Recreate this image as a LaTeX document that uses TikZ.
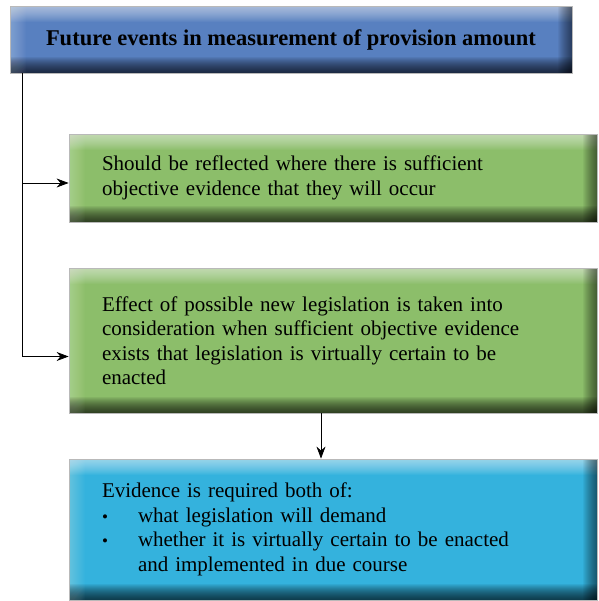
\documentclass[tikz,border=0pt]{standalone}
\usepackage{fontspec}
\setmainfont{Liberation Serif}
\usepackage{xcolor}
\usetikzlibrary{positioning, arrows.meta, calc}

\definecolor{titleblue}{RGB}{88,128,192}
\definecolor{boxgreen}{RGB}{140,190,106}
\definecolor{boxcyan}{RGB}{52,178,221}

\begin{document}
\begin{tikzpicture}[
        x=1pt, y=1pt,
        >={Stealth[length=12pt, width=9pt]},
        every node/.style={font=\fontsize{21}{24.5}\selectfont},
        bevel/.style={rectangle, draw=gray!55, line width=0.8pt, fill=#1,
            path picture={
                \foreach \i in {1,...,16} {
                    \fill[white, opacity=0.045] (path picture bounding box.north west) rectangle ([yshift=-\i*1pt]path picture bounding box.north east);
                    \fill[black, opacity=0.06] (path picture bounding box.south west) rectangle ([yshift=\i*1pt]path picture bounding box.south east);
                    \fill[white, opacity=0.02] (path picture bounding box.south west) rectangle ([xshift=\i*1pt]path picture bounding box.north west);
                }
                \foreach \i in {1,...,14}
                    \fill[black, opacity=0.045] (path picture bounding box.south east) rectangle ([xshift=-\i*1pt]path picture bounding box.north east);
            }},
        textbox/.style={bevel=#1, align=left, text width=462pt, inner xsep=33pt, minimum width=528pt}
    ]
        \useasboundingbox (0,0) rectangle (598,-601);

        % Nodes
        \node (title) [bevel=titleblue, minimum width=562pt, minimum height=67pt, font=\fontsize{22.5}{24}\selectfont\bfseries] at (291,-39.5) {Future events in measurement of provision amount};
        \node (should) [textbox=boxgreen, minimum height=88pt] at (333,-178) {Should be reflected where there is sufficient\\objective evidence that they will occur};
        \node (effect) [textbox=boxgreen, minimum height=145pt] at (333,-340.5) {Effect of possible new legislation is taken into\\consideration when sufficient objective evidence\\exists that legislation is virtually certain to be\\enacted};
        \node (evidence) [textbox=boxcyan, minimum height=141pt] at (333,-529.5) {Evidence is required both of:\\
            \makebox[36pt][l]{\fontsize{17}{17}\selectfont\textbullet}what legislation will demand\\
            \makebox[36pt][l]{\fontsize{17}{17}\selectfont\textbullet}whether it is virtually certain to be enacted\\
            \hspace*{36pt}and implemented in due course};

        % Arrows
        \draw [->, line width=0.8pt] ([xshift=13pt]title.south west) |- ([yshift=-5pt]should.west);
        \draw [->, line width=0.8pt] ([xshift=13pt]title.south west) |- ([yshift=-16pt]effect.west);
        \draw [->, line width=0.8pt] ([xshift=-12pt]effect.south) -- ([xshift=-12pt]effect.south |- evidence.north);
    \end{tikzpicture}
\end{document}
